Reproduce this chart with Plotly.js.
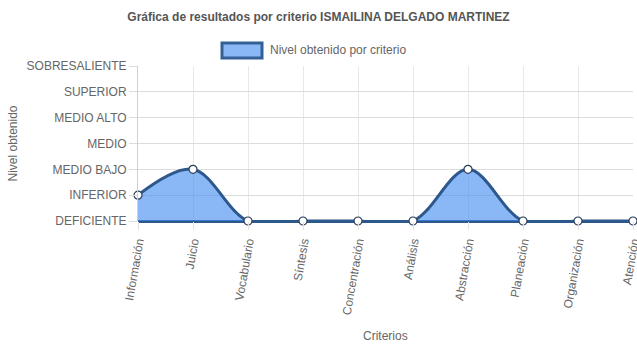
<!DOCTYPE html>
<html>
<head>
<meta charset="utf-8">
<script src="https://cdn.plot.ly/plotly-3.0.1.min.js"></script>
<style>
  html, body { margin: 0; padding: 0; background: #fff; }
  #chart { width: 637px; height: 348px; }
</style>
</head>
<body>
<div id="chart"></div>
<script>
// ---- data ----
var criterios = ['Información', 'Juicio', 'Vocabulario', 'Síntesis', 'Concentración',
                 'Análisis', 'Abstracción', 'Planeación', 'Organización', 'Atención'];
var niveles = ['DEFICIENTE', 'INFERIOR', 'MEDIO BAJO', 'MEDIO', 'MEDIO ALTO', 'SUPERIOR', 'SOBRESALIENTE'];
var nivelObtenido = ['INFERIOR', 'MEDIO BAJO', 'DEFICIENTE', 'DEFICIENTE', 'DEFICIENTE',
                     'DEFICIENTE', 'MEDIO BAJO', 'DEFICIENTE', 'DEFICIENTE', 'DEFICIENTE'];
var serieNombre = 'Nivel obtenido por criterio';
var titulo = 'Gráfica de resultados por criterio ISMAILINA DELGADO MARTINEZ';
var tituloX = 'Criterios';
var tituloY = 'Nivel obtenido';

// ---- styles ----
var FONT = 'Liberation Sans, Arial, Helvetica, sans-serif';
var lineColor = 'rgb(44,88,140)';
var fillColor = 'rgba(66,139,240,0.62)';

var xIdx = criterios.map(function (c, i) { return i; });
var yIdx = nivelObtenido.map(function (n) { return niveles.indexOf(n); });
var nivIdx = niveles.map(function (n, i) { return i; });

var trace = {
  type: 'scatter',
  x: xIdx,
  y: yIdx,
  mode: 'lines+markers',
  fill: 'tozeroy',
  fillcolor: fillColor,
  line: { color: lineColor, width: 3, shape: 'spline', smoothing: 1 },
  marker: { size: 8, color: '#ffffff', line: { color: '#2b3f5a', width: 1.2 } },
  cliponaxis: false,
  showlegend: false,
  hoverinfo: 'skip'
};

var W = 637, H = 348;
var L = 138, R = 4, T = 66, B = 127;
var pw = W - L - R, ph = H - T - B;
function px2x(p) { return (p - L) / pw; }
function py2y(p) { return (H - B - p) / ph; }

var layout = {
  width: W, height: H,
  margin: { l: L, r: R, t: T, b: B, pad: 0 },
  paper_bgcolor: '#ffffff',
  plot_bgcolor: '#ffffff',
  font: { family: FONT, size: 12, color: '#666666' },
  title: {
    text: '<b>' + titulo + '</b>',
    font: { family: FONT, size: 12, color: '#555555' },
    x: 0.5, xref: 'container', xanchor: 'center',
    y: 1 - 17 / H, yref: 'container', yanchor: 'middle'
  },
  showlegend: false,
  xaxis: {
    range: [0, 9],
    tickmode: 'array',
    tickvals: xIdx,
    ticktext: criterios,
    tickangle: -80,
    ticklabeloverflow: 'allow',
    ticks: 'outside', ticklen: 8, tickcolor: '#e3e3e3', tickwidth: 1,
    showgrid: true, gridcolor: '#e8e8e8', gridwidth: 1,
    zeroline: false,
    showline: false,
    tickfont: { family: FONT, size: 12, color: '#666666' },
    fixedrange: true
  },
  yaxis: {
    range: [0, 6],
    tickmode: 'array',
    tickvals: nivIdx,
    ticktext: niveles,
    ticks: 'outside', ticklen: 8, tickcolor: '#dcdcdc', tickwidth: 1,
    showgrid: true, gridcolor: '#dcdcdc', gridwidth: 1,
    zeroline: true, zerolinecolor: lineColor, zerolinewidth: 3,
    showline: true, linecolor: '#d0d0d0', linewidth: 1,
    tickfont: { family: FONT, size: 12, color: '#666666' },
    fixedrange: true
  },
  shapes: [{
    type: 'rect', xref: 'paper', yref: 'paper',
    x0: px2x(222), x1: px2x(262), y0: py2y(58), y1: py2y(43),
    fillcolor: 'rgb(138,183,246)',
    line: { color: 'rgb(52,96,150)', width: 3 }
  }],
  annotations: [{
    xref: 'paper', yref: 'paper',
    x: px2x(268), y: py2y(50.5),
    xanchor: 'left', yanchor: 'middle',
    text: serieNombre, showarrow: false,
    font: { family: FONT, size: 12, color: '#666666' }
  }, {
    xref: 'paper', yref: 'paper',
    x: px2x(385.5), y: py2y(336),
    xanchor: 'center', yanchor: 'middle',
    text: tituloX, showarrow: false,
    font: { family: FONT, size: 12, color: '#666666' }
  }, {
    xref: 'paper', yref: 'paper',
    x: px2x(12), y: py2y(143.5),
    xanchor: 'center', yanchor: 'middle', textangle: -90,
    text: tituloY, showarrow: false,
    font: { family: FONT, size: 12, color: '#666666' }
  }]
};

Plotly.newPlot('chart', [trace], layout, { displayModeBar: false, staticPlot: true });
</script>
</body>
</html>
